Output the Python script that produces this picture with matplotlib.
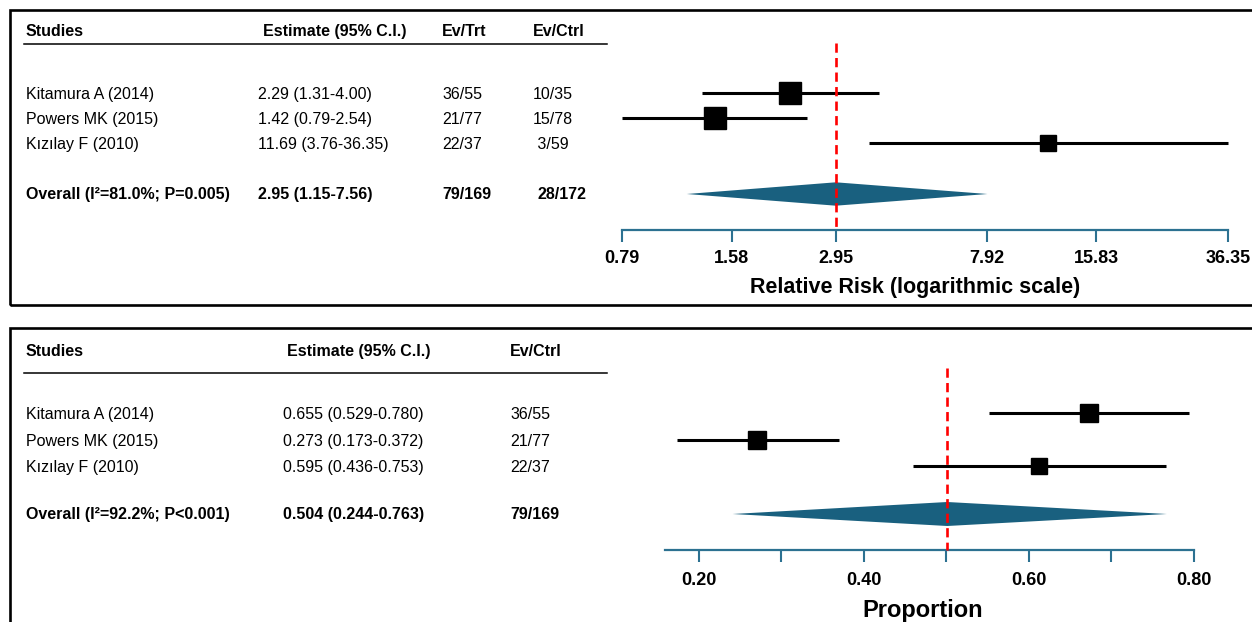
import matplotlib
matplotlib.use("Agg")
import matplotlib.pyplot as plt
import matplotlib.transforms as mtransforms
from matplotlib.patches import Polygon, Rectangle
from matplotlib.ticker import NullLocator

plt.rcParams["font.family"] = ["Liberation Sans", "DejaVu Sans"]

studies = ["Kitamura A (2014)", "Powers MK (2015)", "Kızılay F (2010)"]

# --- relative risk panel ---
rr_est = [2.29, 1.42, 11.69]
rr_lo = [1.31, 0.79, 3.76]
rr_hi = [4.00, 2.54, 36.35]
rr_box = [15.8, 15.8, 11.0]  # square size (pt), reflects study weight
rr_text = ["2.29 (1.31-4.00)", "1.42 (0.79-2.54)", "11.69 (3.76-36.35)"]
rr_ev_trt = ["36/55", "21/77", "22/37"]
rr_ev_ctrl = ["10/35", "15/78", " 3/59"]
rr_overall = [3.05, 1.19, 7.95]  # estimate, lower, upper as drawn
rr_overall_cols = ["Overall (I²=81.0%; P=0.005)", "2.95 (1.15-7.56)", "79/169", "28/172"]
rr_ticks = [0.79, 1.58, 3.05, 7.92, 15.83, 36.35]
rr_tick_labels = ["0.79", "1.58", "2.95", "7.92", "15.83", "36.35"]

# --- proportion panel ---
prop_est = [0.673, 0.271, 0.612]
prop_lo = [0.552, 0.173, 0.459]
prop_hi = [0.794, 0.370, 0.766]
prop_box = [12.6, 12.6, 11.7]
prop_text = ["0.655 (0.529-0.780)", "0.273 (0.173-0.372)", "0.595 (0.436-0.753)"]
prop_ev_ctrl = ["36/55", "21/77", "22/37"]
prop_overall = [0.501, 0.241, 0.767]
prop_overall_cols = ["Overall (I²=92.2%; P<0.001)", "0.504 (0.244-0.763)", "79/169"]
prop_ticks = [0.2, 0.3, 0.4, 0.5, 0.6, 0.7, 0.8]
prop_tick_labels = ["0.20", "", "0.40", "", "0.60", "", "0.80"]

W, H = 1252, 622
AXIS_COL = "#2c7191"
DIAMOND_COL = "#19607f"

fig = plt.figure(figsize=(W / 100, H / 100), dpi=100)


def draw_panel(box, row0, step, ax_x, ax_y, xscale, xlim, pad):
    """box: (top, bottom) px of panel border; row0/step: px of first row and spacing."""
    def row(px):
        return 1 + (px - row0) / step

    # panel border (extends past the right edge of the figure)
    fig.patches.append(Rectangle((10 / W, 1 - box[1] / H), 1.2, (box[1] - box[0]) / H,
                                 transform=fig.transFigure, fill=False,
                                 lw=1.9, ec="black", clip_on=False))

    ax = fig.add_axes([ax_x[0] / W, 1 - ax_y[1] / H,
                       (ax_x[1] - ax_x[0]) / W, (ax_y[1] - ax_y[0]) / H])
    ax.set_xscale(xscale)
    ax.set_xlim(*xlim)
    ax.set_ylim(row(ax_y[1]), row(ax_y[0]))
    for s in ("top", "left", "right"):
        ax.spines[s].set_visible(False)
    ax.spines["bottom"].set_color(AXIS_COL)
    ax.spines["bottom"].set_linewidth(1.6)
    ax.set_yticks([])
    ax.xaxis.set_minor_locator(NullLocator())
    ax.tick_params(axis="x", length=8.3, width=1.5, color=AXIS_COL, pad=pad)
    ax.patch.set_alpha(0)
    return ax, row


def row_text(ax, xs_px, y, texts, bold=False):
    tr = mtransforms.blended_transform_factory(fig.transFigure, ax.transData)
    tr = mtransforms.offset_copy(tr, fig=fig, y=-1.8, units="dots")
    for x, t in zip(xs_px, texts):
        ax.text(x / W, y, t, transform=tr, ha="left", va="center", fontsize=11.5,
                fontweight="bold" if bold else "normal", clip_on=False)


def forest(ax, est, lo, hi, box, overall, rows, overall_row, half_h, line_top):
    for e, l, h, b, r in zip(est, lo, hi, box, rows):
        ax.plot([l, h], [r, r], color="black", lw=2.2, solid_capstyle="butt", clip_on=False)
        ax.plot(e, r, marker="s", ms=b, color="black", clip_on=False)
    e, l, h = overall
    ax.add_patch(Polygon([(l, overall_row), (e, overall_row - half_h),
                          (h, overall_row), (e, overall_row + half_h)],
                         closed=True, fc=DIAMOND_COL, ec="none", zorder=3))
    ax.plot([e, e], [line_top, ax.get_ylim()[0]], color="red", lw=1.9,
            ls=(0, (3.5, 2)), zorder=4, clip_on=False)


rows = [1, 2, 3]

# ---------------- top panel ----------------
ax1, row1 = draw_panel((10, 305), 93, 25, (622, 1228), (10, 229.7), "log", (0.79, 36.35), 6.3)
tr1 = mtransforms.blended_transform_factory(fig.transFigure, ax1.transData)
row_text(ax1, [26, 263, 442, 533], row1(30), ["Studies", "Estimate (95% C.I.)", "Ev/Trt", "Ev/Ctrl"], bold=True)
ax1.plot([24 / W, 607 / W], [row1(44), row1(44)], transform=tr1, color="black", lw=1.1, clip_on=False)
for i, r in enumerate(rows):
    row_text(ax1, [26, 258, 442, 533], r, [studies[i], rr_text[i], rr_ev_trt[i], rr_ev_ctrl[i]])
row_text(ax1, [26, 258, 442, 537], row1(193), rr_overall_cols, bold=True)
forest(ax1, rr_est, rr_lo, rr_hi, rr_box, rr_overall, rows, row1(194), 11.7 / 25, row1(43))
ax1.set_xticks(rr_ticks, rr_tick_labels, fontsize=13, fontweight="bold")
ax1.set_xlabel("Relative Risk (logarithmic scale)", fontsize=15.5, fontweight="bold", labelpad=7.3)
ax1.xaxis.label.set_x(0.484)

# ---------------- bottom panel ----------------
ax2, row2 = draw_panel((328, 700), 413, 26.5, (665, 1194), (328, 550), "linear", (0.159, 0.80), 7.3)
tr2 = mtransforms.blended_transform_factory(fig.transFigure, ax2.transData)
row_text(ax2, [26, 287, 510], row2(350), ["Studies", "Estimate (95% C.I.)", "Ev/Ctrl"], bold=True)
ax2.plot([24 / W, 607 / W], [row2(373), row2(373)], transform=tr2, color="black", lw=1.1, clip_on=False)
for i, r in enumerate(rows):
    row_text(ax2, [26, 283, 510], r, [studies[i], prop_text[i], prop_ev_ctrl[i]])
row_text(ax2, [26, 283, 510], row2(513), prop_overall_cols, bold=True)
forest(ax2, prop_est, prop_lo, prop_hi, prop_box, prop_overall, rows, row2(514), 12 / 26.5, row2(368))
ax2.set_xticks(prop_ticks, prop_tick_labels, fontsize=13, fontweight="bold")
for t in ax2.xaxis.get_major_ticks()[-2:]:
    t.tick1line.set_color("black")
ax2.set_xlabel("Proportion", fontsize=17, fontweight="bold", labelpad=7.5)
ax2.xaxis.label.set_x(0.487)

fig.savefig("out.png", dpi=100)
